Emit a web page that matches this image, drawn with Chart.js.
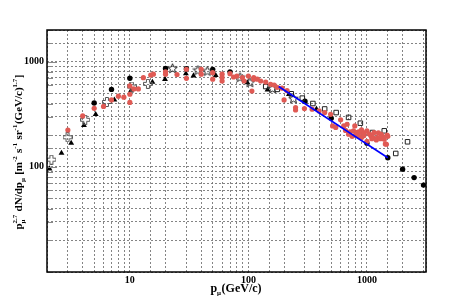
<!DOCTYPE html>
<html>
<head>
<meta charset="utf-8">
<script src="https://cdn.jsdelivr.net/npm/chart.js@4.4.0/dist/chart.umd.min.js"></script>
<style>
  html, body { margin: 0; padding: 0; background: #fff; }
</style>
</head>
<body>
<canvas id="muon-chart" width="473" height="303"></canvas>
<script>
// momentum (GeV/c) and p^2.7 dN/dp values
const blackCircleX = [5, 7, 10, 20, 30, 50, 70, 300, 500, 1000, 1500, 2000, 2500, 3000];
const blackCircleY = [405, 545, 695, 860, 855, 845, 800, 420, 290, 168, 122, 95, 79, 67];

const triangleX = [2.1, 2.65, 3.2, 4.1, 5.15, 7.4, 10.2, 15.5, 19.8, 29.7, 34.4, 53, 98, 145, 220, 300, 375];
const triangleY = [96, 135, 168, 248, 316, 433, 528, 640, 681, 770, 735, 740, 633, 540, 490, 415, 355];

const crossX = [2.18, 2.98, 4.2, 6.4, 10.4, 14.2];
const crossY = [117, 191, 280, 414, 580, 615];

const starX = [22.9, 37.5, 45, 85, 103, 160, 240];
const starY = [864, 830, 814, 710, 636, 555, 445];

const squareX = [140, 175, 230, 285, 350, 440, 550, 700, 880, 1115, 1400, 1750, 2200];
const squareY = [580, 545, 495, 450, 400, 355, 328, 295, 260, 212, 220, 134, 173];

const redX = [3, 4, 5, 6, 7, 8, 8.9, 10, 10, 10, 10.8, 11.8, 13, 15, 15.8, 20, 20, 25, 30, 30, 40, 40, 50, 50,
  60, 60, 60, 70, 75, 80, 89, 92, 100, 107, 111, 111, 119, 127, 140, 154, 165, 175, 192, 212,
  200, 250, 250, 297, 345, 395, 440, 494, 513, 546, 600, 637, 660, 680, 700, 720, 750, 770, 790,
  800, 820, 850, 850, 880, 900, 900, 940, 950, 1000, 1000, 1050, 1080, 1100, 1130, 1150, 1200, 1230,
  1250, 1300, 1320, 1350, 1400, 1430, 1460, 1480, 1500];
const redY = [224, 305, 360, 375, 433, 470, 460, 410, 490, 588, 550, 550, 705, 745, 760, 800, 760, 755, 847, 695, 847, 760, 785, 681,
  760, 706, 655, 768, 715, 730, 706, 655, 730, 526, 681, 706, 681, 655, 640, 610, 600, 570, 560, 530,
  433, 366, 347, 358, 353, 340, 328, 316, 245, 237, 280, 245, 222, 254, 204, 215, 195, 220, 245,
  200, 212, 215, 195, 213, 190, 225, 198, 210, 220, 175, 205, 198, 185, 190, 212, 180, 190,
  210, 185, 204, 195, 183, 165, 164, 200, 195];

const lineX = [180, 1500];
const lineY = [580, 122];

const xLabels = [10, 100, 1000];
const yLabels = [100, 1000];

function pts(xs, ys) {
  return xs.map((x, i) => ({ x: x, y: ys[i] }));
}

// open plus marker
function crossMarker() {
  const c = document.createElement('canvas');
  c.width = 10; c.height = 10;
  const g = c.getContext('2d');
  g.strokeStyle = '#555';
  g.lineWidth = 1;
  const p = [[3.5,0.5],[6.5,0.5],[6.5,3.5],[9.5,3.5],[9.5,6.5],[6.5,6.5],[6.5,9.5],[3.5,9.5],[3.5,6.5],[0.5,6.5],[0.5,3.5],[3.5,3.5]];
  g.beginPath();
  p.forEach((q, i) => i ? g.lineTo(q[0], q[1]) : g.moveTo(q[0], q[1]));
  g.closePath();
  g.stroke();
  return c;
}

// open five point star marker
function starMarker() {
  const c = document.createElement('canvas');
  c.width = 11; c.height = 11;
  const g = c.getContext('2d');
  g.strokeStyle = '#222';
  g.lineWidth = 1;
  g.beginPath();
  for (let i = 0; i < 10; i++) {
    const r = i % 2 ? 2.2 : 5;
    const a = -Math.PI / 2 + i * Math.PI / 5;
    const x = 5.5 + r * Math.cos(a), y = 5.8 + r * Math.sin(a);
    i ? g.lineTo(x, y) : g.moveTo(x, y);
  }
  g.closePath();
  g.stroke();
  return c;
}

const FONT = '"Liberation Serif", "DejaVu Serif", serif';

function rich(ctx, parts, x, y, size, draw) {
  let cx = x;
  for (const p of parts) {
    if (typeof p === 'string') {
      ctx.font = 'bold ' + size + 'px ' + FONT;
      if (draw) ctx.fillText(p, cx, y);
      cx += ctx.measureText(p).width;
    } else {
      ctx.font = 'bold ' + Math.round(size * 0.6) + 'px ' + FONT;
      let w = 0;
      if (p.sup) {
        if (draw) ctx.fillText(p.sup, cx, y - size * 0.45);
        w = Math.max(w, ctx.measureText(p.sup).width);
      }
      if (p.sub) {
        if (draw) ctx.fillText(p.sub, cx, y + size * 0.28);
        w = Math.max(w, ctx.measureText(p.sub).width);
      }
      cx += w + 0.5;
    }
  }
  return cx - x;
}

const yTitle = ['p', { sub: 'μ', sup: '2.7' }, ' dN/dp', { sub: 'μ' }, ' [m', { sup: '-2' }, ' s', { sup: '-1' },
  ' sr', { sup: '-1' }, '(GeV/c)', { sup: '1.7' }, ']'];
const xTitle = ['p', { sub: 'μ' }, '(GeV/c)'];

const framePlugin = {
  id: 'frame',
  afterDraw(chart) {
    const ctx = chart.ctx;
    const a = chart.chartArea;
    const ys = chart.scales.y;
    ctx.save();
    // short ticks inside the left axis
    ctx.strokeStyle = '#888';
    ctx.lineWidth = 1;
    ys.ticks.forEach(t => {
      const py = Math.round(ys.getPixelForValue(t.value)) + 0.5;
      const len = yLabels.includes(t.value) ? 10 : 6;
      ctx.beginPath();
      ctx.moveTo(a.left, py);
      ctx.lineTo(a.left + len, py);
      ctx.stroke();
    });
    ctx.strokeStyle = '#000';
    ctx.lineWidth = 1.5;
    ctx.strokeRect(a.left, a.top, a.right - a.left, a.bottom - a.top);

    ctx.fillStyle = '#000';
    ctx.textBaseline = 'alphabetic';
    // x title
    const wx = rich(ctx, xTitle, 0, 0, 12, false);
    rich(ctx, xTitle, 236 - wx / 2, 292, 12, true);
    // y title
    const wy = rich(ctx, yTitle, 0, 0, 11, false);
    ctx.translate(22, 152);
    ctx.rotate(-Math.PI / 2);
    rich(ctx, yTitle, -wy / 2, 0, 11, true);
    ctx.restore();
  }
};

const gridStyle = { color: 'rgba(110,110,110,0.85)', lineWidth: 1, drawTicks: false };
const borderStyle = { display: false, dash: [2, 2] };

new Chart(document.getElementById('muon-chart'), {
  type: 'scatter',
  data: {
    datasets: [
      {
        label: 'fit',
        type: 'line',
        data: pts(lineX, lineY),
        borderColor: '#0000ff',
        borderWidth: 1.6,
        pointRadius: 0,
        fill: false
      },
      {
        label: 'red',
        data: pts(redX, redY),
        pointStyle: 'circle',
        pointRadius: 2.6,
        backgroundColor: 'rgb(224,90,84)',
        borderWidth: 0
      },
      {
        label: 'squares',
        data: pts(squareX, squareY),
        pointStyle: 'rect',
        pointRadius: 3.2,
        backgroundColor: 'rgba(255,255,255,0)',
        borderColor: '#222',
        borderWidth: 1
      },
      {
        label: 'stars',
        data: pts(starX, starY),
        pointStyle: starMarker()
      },
      {
        label: 'crosses',
        data: pts(crossX, crossY),
        pointStyle: crossMarker()
      },
      {
        label: 'triangles',
        data: pts(triangleX, triangleY),
        pointStyle: 'triangle',
        pointRadius: 3.4,
        backgroundColor: '#000',
        borderWidth: 0
      },
      {
        label: 'circles',
        data: pts(blackCircleX, blackCircleY),
        pointStyle: 'circle',
        pointRadius: 2.7,
        backgroundColor: '#000',
        borderWidth: 0
      }
    ]
  },
  options: {
    responsive: false,
    animation: false,
    events: [],
    layout: { padding: { left: 0, right: 47, top: 30, bottom: 0 } },
    plugins: { legend: { display: false }, tooltip: { enabled: false } },
    scales: {
      x: {
        type: 'logarithmic',
        min: 2,
        max: 3150,
        grid: gridStyle,
        border: borderStyle,
        afterFit(scale) { scale.height = 31; },
        ticks: {
          autoSkip: false,
          maxRotation: 0,
          padding: 2,
          color: '#000',
          font: { family: FONT, size: 10, weight: 'bold' },
          callback: v => xLabels.includes(v) ? String(v) : ''
        }
      },
      y: {
        type: 'logarithmic',
        min: 10,
        max: 2000,
        grid: gridStyle,
        border: borderStyle,
        afterFit(scale) { scale.width = 47; },
        ticks: {
          autoSkip: false,
          padding: 3,
          color: '#000',
          font: { family: FONT, size: 10, weight: 'bold' },
          callback: v => yLabels.includes(v) ? String(v) : ''
        }
      }
    }
  },
  plugins: [framePlugin]
});
</script>
</body>
</html>
